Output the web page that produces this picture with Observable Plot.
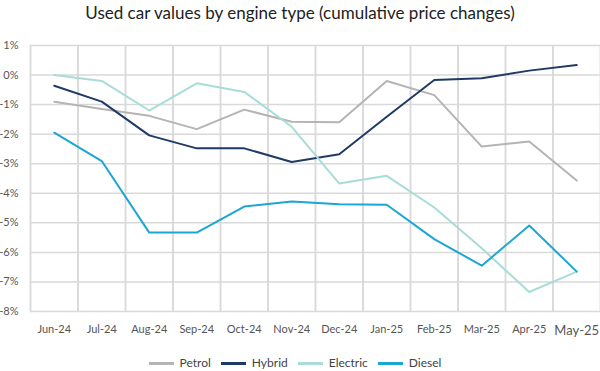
<!DOCTYPE html>
<html><head><meta charset="utf-8">
<script src="https://cdn.jsdelivr.net/npm/d3@7"></script>
<script src="https://cdn.jsdelivr.net/npm/@observablehq/plot@0.6"></script>
<style>
html,body{margin:0;background:#fff;font-family:Lato,"Noto Sans",sans-serif;overflow:hidden}
#title{height:30px;line-height:26px;text-align:center;font-size:17px;color:#222;}
#chart svg{display:block}
#legend{display:flex;justify-content:center;gap:10px;font-size:12px;line-height:14px;height:14px;color:#444;margin-top:14px;padding-right:10px}
#legend span.it{display:flex;align-items:center;gap:6px}
#legend i{display:inline-block;width:25px;height:3px}
</style></head><body>
<div id="title">Used car values by engine type (cumulative price changes)</div>
<div id="chart"></div>
<div id="legend"></div>
<script>
const months = ["Jun-24","Jul-24","Aug-24","Sep-24","Oct-24","Nov-24","Dec-24","Jan-25","Feb-25","Mar-25","Apr-25","May-25"];
const series = ["Petrol","Hybrid","Electric","Diesel"];
const colors = ["#b4b4b4","#1f3a66","#a9dcd8","#1ba6d3"];
const petrol   = [-0.90,-1.15,-1.38,-1.83,-1.17,-1.58,-1.60,-0.20,-0.68,-2.42,-2.25,-3.57];
const hybrid   = [-0.36,-0.90,-2.04,-2.48,-2.48,-2.94,-2.68,-1.41,-0.17,-0.11,0.15,0.34];
const electric = [0.00,-0.20,-1.20,-0.28,-0.57,-1.75,-3.67,-3.41,-4.48,-5.86,-7.34,-6.65];
const diesel   = [-1.95,-2.91,-5.33,-5.33,-4.45,-4.28,-4.37,-4.39,-5.55,-6.45,-5.09,-6.65];
const yTicks = [1,0,-1,-2,-3,-4,-5,-6,-7,-8];

const values = [petrol,hybrid,electric,diesel];
const data = [];
series.forEach((s,si)=>values[si].forEach((v,i)=>data.push({series:s,i,v})));
const idx = months.map((m,i)=>i);
const bounds = d3.range(months.length+1).map(i=>i-0.5);

const plot = Plot.plot({
  width:600, height:312,
  marginTop:15, marginLeft:30, marginRight:0, marginBottom:31,
  style:{fontFamily:"Lato, 'Noto Sans', sans-serif", fontSize:"11px", color:"#555"},
  x:{type:"linear", domain:[-0.5,11.5]},
  y:{domain:[-8,1]},
  color:{domain:series, range:colors},
  marks:[
    Plot.gridY(yTicks,{stroke:"#d9d9d9", strokeOpacity:1, strokeWidth:1.5}),
    Plot.axisY(yTicks,{tickSize:0, tickPadding:12, tickFormat:d=>d+"%", fill:"#555", label:null}),
    Plot.tickX(bounds,{x:d=>d, y1:0, y2:-0.17, stroke:"#d9d9d9", strokeWidth:1.5}),
    Plot.tickX(bounds,{x:d=>d, y1:-8, y2:-8.17, stroke:"#d9d9d9", strokeWidth:1.5}),
    Plot.axisX(idx,{tickSize:0, tickPadding:14, tickFormat:i=>months[i], fill:"#555", fontSize:i=>i===11?13:11, label:null}),
    Plot.lineY(data,{x:"i", y:"v", z:"series", stroke:"series", strokeWidth:2, curve:"linear"})
  ]
});
document.getElementById("chart").appendChild(plot);
const lg = document.getElementById("legend");
series.forEach((s,i)=>{
  const e=document.createElement("span"); e.className="it";
  e.innerHTML=`<i style="background:${colors[i]}"></i>${s}`;
  lg.appendChild(e);
});
</script></body></html>
